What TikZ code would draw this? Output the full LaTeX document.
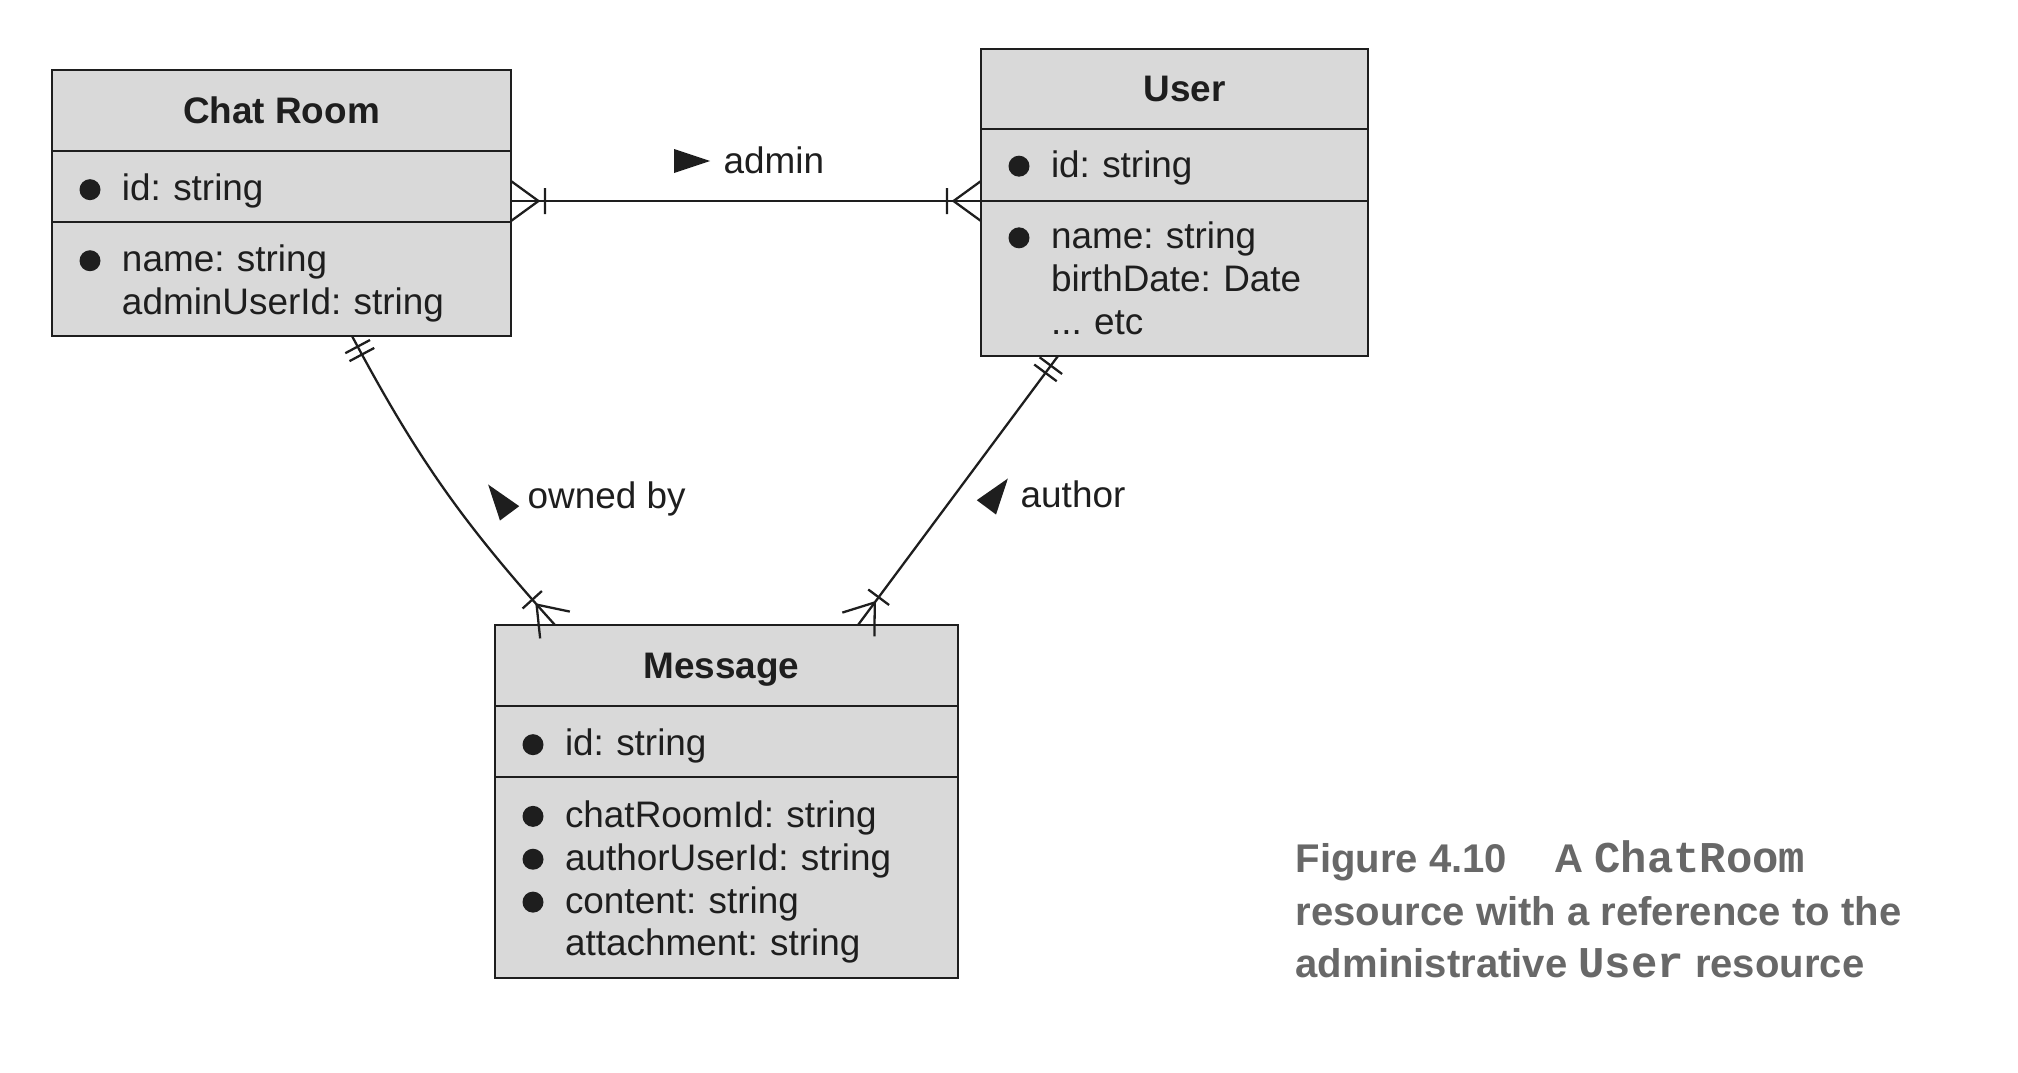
\documentclass[tikz,border=0pt]{standalone}
\usepackage{fontspec}
\setmainfont{Liberation Sans}
\newfontfamily\capmono{Liberation Mono}
\usetikzlibrary{positioning, shapes.geometric, decorations.markings}
\definecolor{boxgray}{RGB}{217,217,217}
\definecolor{ink}{RGB}{30,30,30}
\definecolor{capgray}{RGB}{104,104,104}
\newcommand{\attrdot}{\makebox[4.25mm][l]{\tikz[baseline=0pt]\fill[ink] (1.05mm,1.1mm) circle[radius=1.05mm];}}
\newcommand{\attrgap}{\makebox[4.25mm]{}}
\newcommand{\code}[1]{{\capmono\fontsize{12.5pt}{14pt}\selectfont #1}}
\tikzset{
  entity/.style={draw=ink, fill=boxgray, line width=0.75pt, outer sep=0pt, text=ink},
  enthead/.style={entity, font=\bfseries, text depth=0pt, inner sep=0pt, minimum height=8.1mm},
  entrow/.style={entity, align=left, inner xsep=2.75mm, inner ysep=0pt, execute at begin node={\rule{0pt}{#1}}},
  entrow/.default=3.6mm,
  rel/.style={draw=ink, line width=0.65pt},
  crow start/.style={postaction={decorate, decoration={markings, mark=at position 0 with {\draw[rel] (2.75mm,0) -- (0,2mm) (2.75mm,0) -- (0,-2mm) (3.4mm,-1.3mm) -- (3.4mm,1.3mm);}}}},
  crow end/.style={postaction={decorate, decoration={markings, mark=at position 1 with {\draw[rel] (-2.75mm,0) -- (0,2mm) (-2.75mm,0) -- (0,-2mm) (-3.4mm,-1.3mm) -- (-3.4mm,1.3mm);}}}},
  one start/.style={postaction={decorate, decoration={markings, mark=at position 0 with {\draw[rel] (1.2mm,-1.4mm) -- (1.2mm,1.4mm) (2.1mm,-1.4mm) -- (2.1mm,1.4mm);}}}},
  readdir/.style={isosceles triangle, isosceles triangle stretches, fill=ink, inner sep=0pt, minimum width=2.4mm, minimum height=3.6mm, anchor=apex},
  rellabel/.style={anchor=base west, inner sep=0pt, text=ink}
}
\begin{document}
\fontsize{10.5pt}{12.2pt}\selectfont\frenchspacing
\begin{tikzpicture}[x=0.1mm, y=-0.1mm]
\useasboundingbox (0,0) rectangle (2018,1072);

% Chat Room
\node[enthead, minimum width=45.9mm, anchor=north west] (crT) at (52,70) {Chat Room};
\node[entrow, text width=40.4mm, minimum height=7.1mm, below=0pt of crT] (crA) {\attrdot id: string};
\node[entrow, text width=40.4mm, minimum height=11.4mm, below=0pt of crA] (crB) {\attrdot name: string\\\attrgap adminUserId: string};

% User
\node[enthead, minimum width=38.7mm, minimum height=8.0mm, anchor=north west] (usT) at (981,49) {\hspace*{2mm}User};
\node[entrow=3.2mm, text width=33.2mm, minimum height=7.2mm, below=0pt of usT] (usA) {\attrdot id: string};
\node[entrow=2.6mm, text width=33.2mm, minimum height=15.5mm, below=0pt of usA] (usB) {\attrdot name: string\\\attrgap birthDate: Date\\\attrgap ... etc};

% Message
\node[enthead, minimum width=46.3mm, anchor=north west] (msT) at (495,625) {Message\hspace*{1mm}};
\node[entrow, text width=40.8mm, minimum height=7.1mm, below=0pt of msT] (msA) {\attrdot id: string};
\node[entrow, text width=40.8mm, minimum height=20.1mm, below=0pt of msA] (msB) {\attrdot chatRoomId: string\\\attrdot authorUserId: string\\\attrdot content: string\\\attrgap attachment: string};

% relations
\draw[rel, crow start, crow end] (crA.south east |- usA.south west) -- (usA.south west);
\draw[rel, one start, crow end] ([xshift=30mm]crB.south west) to[bend right=7] ([xshift=6mm]msT.north west);
\draw[rel, one start, crow end] ([xshift=7.7mm]usB.south west) -- ([xshift=-10mm]msT.north east);

\node[readdir] (adminTri) at (712,161) {};
\node[rellabel] (adminLbl) at (723,173) {admin};
\node[readdir, rotate=126.7] (ownTri) at (487,483) {};
\node[rellabel] (ownLbl) at (527,508) {owned by};
\node[readdir, rotate=53.3] (authorTri) at (1009,477) {};
\node[rellabel] (authorLbl) at (1020,507) {author};

% caption
\node[anchor=base west, align=left, inner sep=0pt, text=capgray, font=\fontsize{11.4pt}{14.8pt}\selectfont\bfseries] (caption) at (1295,977)
  {Figure 4.10\hspace{4.7mm}A \code{ChatRoom}\\resource with a reference to the\\administrative \code{User} resource};
\end{tikzpicture}
\end{document}
